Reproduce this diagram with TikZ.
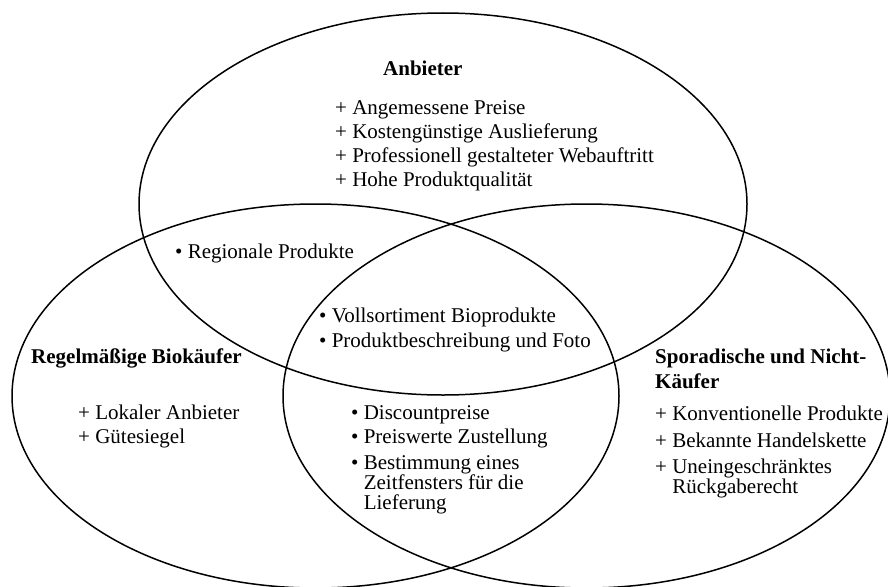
\documentclass[tikz,border=0pt]{standalone}
\usepackage{fontspec}
\setmainfont{Liberation Serif}

\begin{document}
\begin{tikzpicture}[
        x=1pt,
        y=-1pt,
        every node/.style={
            font=\fontsize{21}{24}\selectfont,
            inner sep=0pt,
            anchor=base west,
            align=left
        },
        set/.style={
            draw,
            line width=1.5pt
        },
        head/.style={font=\fontsize{21}{24}\selectfont\bfseries}
    ]
    \useasboundingbox (0,0) rectangle (888,586);
    \clip (0,0) rectangle (888,586);

    % Sets
    \draw[set] (443,204) ellipse [x radius=304, y radius=191];
    \draw[set] (315.5,396) ellipse [x radius=303.5, y radius=192];
    \draw[set] (586.5,396) ellipse [x radius=303.5, y radius=192];

    % Anbieter (nodes sit on their last baseline)
    \node[head] (anbieter) at (383,75) {Anbieter};
    \node (anbieterlist) at (335,186) {+ Angemessene Preise\\+ Kostengünstige Auslieferung\\+ Professionell gestalteter Webauftritt\\+ Hohe Produktqualität};
    \node (regional) at (175,258) {\textbullet\ Regionale Produkte};
    \node (mitte) at (319,347) {\textbullet\ Vollsortiment Bioprodukte\\[1pt]\textbullet\ Produktbeschreibung und Foto};

    % Regelmaessige Biokaeufer
    \node[head] (bio) at (31,363) {Regelmäßige Biokäufer};
    \node (biolist) at (78,443) {+ Lokaler Anbieter\\+ Gütesiegel};

    % Sporadische und Nicht-Kaeufer
    \node[head] (sporadisch) at (655,388) {Sporadische und Nicht-\\[1pt]Käufer};
    \node (sporlist) at (655,493) {+ Konventionelle Produkte\\[3pt]+ Bekannte Handelskette\\[2pt]+ Uneingeschränktes\\[-4pt]\phantom{+\ }Rückgaberecht};

    % Kaeufer
    \node (kunden) at (351,509) {\textbullet\ Discountpreise\\\textbullet\ Preiswerte Zustellung\\[2pt]\textbullet\ Bestimmung eines\\[-4pt]\phantom{\textbullet\ }Zeitfensters für die\\[-4pt]\phantom{\textbullet\ }Lieferung};
\end{tikzpicture}
\end{document}
